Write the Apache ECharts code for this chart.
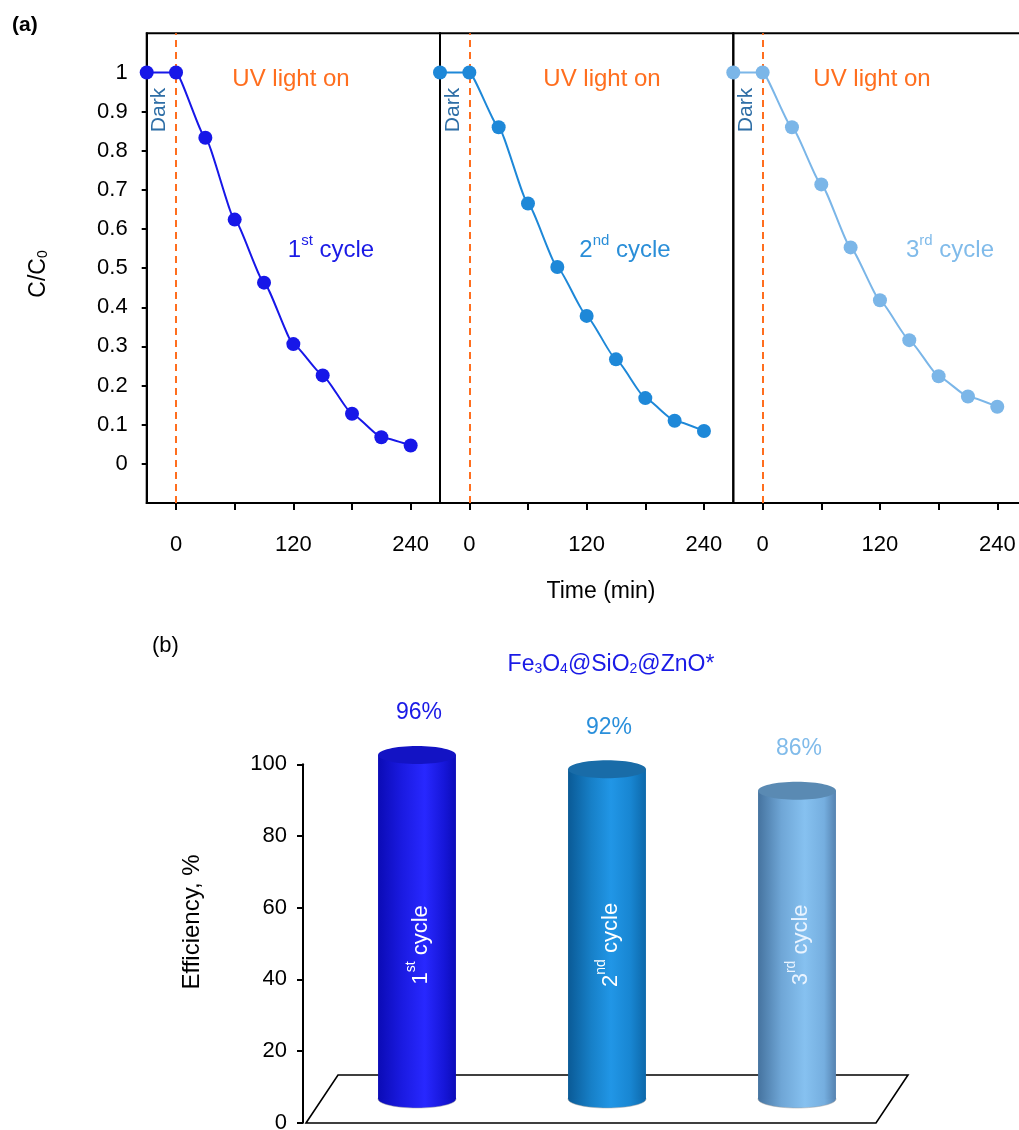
<!DOCTYPE html>
<html>
<head>
<meta charset="utf-8">
<script src="https://cdn.jsdelivr.net/npm/echarts@6/dist/echarts.min.js"></script>
<style>html,body{margin:0;padding:0;background:#fff}#c{width:1019px;height:1130px}</style>
</head>
<body>
<div id="c"></div>
<script>
// ---------- data ----------
const timeMin = [-30, 0, 30, 60, 90, 120, 150, 180, 210, 240];
const cycle1 = [1, 1, 0.833, 0.624, 0.463, 0.306, 0.226, 0.128, 0.068, 0.047];
const cycle2 = [1, 1, 0.860, 0.665, 0.503, 0.378, 0.267, 0.168, 0.110, 0.084];
const cycle3 = [1, 1, 0.860, 0.714, 0.553, 0.418, 0.316, 0.224, 0.172, 0.146];
const xTickValues = [0, 60, 120, 180, 240];
const xLabelValues = [0, 120, 240];
const yTicksA = [0, 0.1, 0.2, 0.3, 0.4, 0.5, 0.6, 0.7, 0.8, 0.9, 1];
const cycleNums = ['1', '2', '3'];
const cycleSufs = ['st', 'nd', 'rd'];
const barCategories = ['1st cycle', '2nd cycle', '3rd cycle'];
const efficiency = [96, 92, 86];
const yTicksB = [0, 20, 40, 60, 80, 100];

// ---------- styles ----------
const FONT = "'Liberation Sans', Arial, Helvetica, sans-serif";
const ORANGE = '#FF6E1E';
const lineColors = ['#1717E8', '#1E88D8', '#7BB6E8'];
const cycleTextColors = ['#1A1AE6', '#2A8ED8', '#80BBEA'];
const barStyles = [
  {body: [['#0B0BB5',0],['#1A1AE0',0.3],['#2828FF',0.6],['#1616D8',0.85],['#0C0CB8',1]], top: '#1313C4', label: '#FFFFFF', value: '#1A1AE6'},
  {body: [['#0A5A96',0],['#1780C8',0.3],['#2196E6',0.55],['#1886D2',0.8],['#0D68AA',1]], top: '#196CA8', label: '#FFFFFF', value: '#2A8FDB'},
  {body: [['#45739F',0],['#6FA6D6',0.3],['#86C1F0',0.6],['#75AEDF',0.85],['#5582B0',1]], top: '#5A8AB3', label: '#EAF4FF', value: '#80BBEA'}
];

const A = {top: 33.3, height: 469.7, width: 293.3, lefts: [146.7, 440, 733.3]};

function toStops(arr){ return arr.map(s => ({color: s[0], offset: s[1]})); }
function supRich(size, color){
  return {
    n: {fontSize: size, fontFamily: FONT, fill: color, lineHeight: size + 5, verticalAlign: 'bottom'},
    s: {fontSize: Math.round(size * 0.62), fontFamily: FONT, fill: color, lineHeight: Math.round(size*0.8), verticalAlign: 'top'}
  };
}
function subRich(size, color){
  return {
    n: {fontSize: size, fontFamily: FONT, fill: color, lineHeight: size + 5, verticalAlign: 'bottom'},
    b: {fontSize: Math.round(size * 0.62), fontFamily: FONT, fill: color, lineHeight: Math.round(size * 0.62), verticalAlign: 'bottom'}
  };
}

const chart = echarts.init(document.getElementById('c'), null, {renderer: 'canvas'});

const grids = [], xAxes = [], yAxes = [], series = [];
const cycles = [cycle1, cycle2, cycle3];
for (let i = 0; i < 3; i++) {
  grids.push({left: A.lefts[i], top: A.top, width: A.width, height: A.height,
    show: true, borderColor: '#000', borderWidth: 2, backgroundColor: 'transparent',
    containLabel: false, outerBoundsMode: 'none'});
  xAxes.push({type: 'value', gridIndex: i, min: -30, max: 270,
    axisLine: {show: true, onZero: false, lineStyle: {color: '#000', width: 2}},
    axisTick: {show: true, inside: false, length: 7, customValues: xTickValues, lineStyle: {color: '#000', width: 2}},
    axisLabel: {show: true, customValues: xLabelValues, margin: 31, fontSize: 22, color: '#000', fontFamily: FONT},
    splitLine: {show: false}});
  yAxes.push({type: 'value', gridIndex: i, min: -0.1, max: 1.1, interval: 0.1,
    show: i === 0,
    axisLine: {show: i === 0, onZero: false, lineStyle: {color: '#000', width: 2}},
    axisTick: {show: i === 0, inside: false, length: 5, customValues: yTicksA, lineStyle: {color: '#000', width: 2}},
    axisLabel: {show: i === 0, customValues: yTicksA, margin: 19, fontSize: 22, color: '#000', fontFamily: FONT,
      formatter: v => { const k = Math.round(v * 10); return k === 10 ? '1' : k === 0 ? '0' : (k / 10).toFixed(1); }},
    splitLine: {show: false}});
  series.push({
    type: 'line', xAxisIndex: i, yAxisIndex: i,
    data: timeMin.map((t, j) => [t, cycles[i][j]]),
    smooth: 0.15, smoothMonotone: 'x', symbol: 'circle', symbolSize: 14, clip: false,
    lineStyle: {color: lineColors[i], width: 2},
    itemStyle: {color: lineColors[i]},
    z: 5,
    markLine: {silent: true, symbol: 'none', animation: false,
      label: {show: false},
      lineStyle: {color: ORANGE, type: [7, 5], width: 2},
      data: [{xAxis: 0}]}
  });
}

// Panel (b): visible axis grid (front plane) and bar grid (mid-depth plane)
grids.push({left: 303, top: 764.3, width: 570, height: 358.4, show: false, containLabel: false, outerBoundsMode: 'none'});
grids.push({left: 322, top: 740.6, width: 570, height: 358.4, show: false, containLabel: false, outerBoundsMode: 'none'});
xAxes.push({type: 'value', gridIndex: 3, show: false, min: 0, max: 1});
yAxes.push({type: 'value', gridIndex: 3, min: 0, max: 100, interval: 20,
  axisLine: {show: true, onZero: false, lineStyle: {color: '#000', width: 2}},
  axisTick: {show: true, inside: false, length: 6, lineStyle: {color: '#000', width: 2}},
  axisLabel: {show: true, customValues: yTicksB, margin: 16, fontSize: 22, color: '#000', fontFamily: FONT},
  splitLine: {show: false}});
xAxes.push({type: 'category', gridIndex: 4, data: barCategories, show: false});
yAxes.push({type: 'value', gridIndex: 4, min: 0, max: 100, show: false});

const DEPTH_DX = 16, DEPTH_DY = 24;
series.push({
  type: 'custom', xAxisIndex: 4, yAxisIndex: 4, z: 1, silent: true,
  data: [[0, 0]],
  renderItem: function (params, api) {
    const l = api.coord([0, 0]);
    const r = api.coord([barCategories.length - 1, 0]);
    const bw = api.size([1, 0])[0];
    const x0 = l[0] - bw / 2, x1 = r[0] + bw / 2, y = l[1];
    return {type: 'polygon',
      shape: {points: [[x0 - DEPTH_DX, y + DEPTH_DY], [x0 + DEPTH_DX, y - DEPTH_DY], [x1 + DEPTH_DX, y - DEPTH_DY], [x1 - DEPTH_DX, y + DEPTH_DY]]},
      style: {fill: '#fff', stroke: '#000', lineWidth: 1.6}};
  }
});
series.push({
  type: 'custom', xAxisIndex: 4, yAxisIndex: 4, z: 3, silent: true,
  data: efficiency.map((v, i) => [i, v]),
  encode: {x: 0, y: 1},
  renderItem: function (params, api) {
    const idx = api.value(0), val = api.value(1);
    const top = api.coord([idx, val]);
    const base = api.coord([idx, 0]);
    const bw = api.size([1, 0])[0];
    const rx = bw * 0.205, ry = 9;
    const st = barStyles[idx];
    const bodyFill = new echarts.graphic.LinearGradient(0, 0, 1, 0, toStops(st.body));
    const labelY = api.coord([idx, 43])[1];
    return {type: 'group', children: [
      {type: 'ellipse', shape: {cx: base[0], cy: base[1], rx: rx, ry: ry}, style: {fill: bodyFill, stroke: 'rgba(160,160,160,0.5)', lineWidth: 1}},
      {type: 'rect', shape: {x: base[0] - rx, y: top[1], width: 2 * rx, height: base[1] - top[1]}, style: {fill: bodyFill}},
      {type: 'ellipse', shape: {cx: top[0], cy: top[1], rx: rx, ry: ry}, style: {fill: st.top}},
      {type: 'text', x: top[0] + 1, y: labelY, rotation: Math.PI / 2,
        style: {text: '{n|' + cycleNums[idx] + '}{s|' + cycleSufs[idx] + '}{n| cycle}', rich: supRich(22, st.label),
          align: 'center', verticalAlign: 'middle', fill: st.label}},
      {type: 'text', x: top[0] + 2, y: top[1] - 42,
        style: {text: val + '%', fontSize: 23, fontFamily: FONT, fill: st.value, align: 'center', verticalAlign: 'middle'}}
    ]};
  }
});

// ---------- text annotations ----------
const graphics = [
  {type: 'text', x: 12, y: 25, style: {text: '(a)', fontSize: 21, fontWeight: 'bold', fontFamily: FONT, fill: '#000', align: 'left', verticalAlign: 'middle'}},
  {type: 'text', x: 36, y: 274, rotation: Math.PI / 2,
    style: {text: '{n|C/C}{b|0}', rich: subRich(23, '#000'), align: 'center', verticalAlign: 'middle'}},
  {type: 'text', x: 601, y: 592, style: {text: 'Time (min)', fontSize: 23, fontFamily: FONT, fill: '#000', align: 'center', verticalAlign: 'middle'}},
  {type: 'text', x: 152, y: 646, style: {text: '(b)', fontSize: 22, fontFamily: FONT, fill: '#000', align: 'left', verticalAlign: 'middle'}},
  {type: 'text', x: 611, y: 662, style: {text: '{n|Fe}{b|3}{n|O}{b|4}{n|@SiO}{b|2}{n|@ZnO*}', rich: subRich(23, '#1A1AE6'), align: 'center', verticalAlign: 'middle'}},
  {type: 'text', x: 192, y: 922, rotation: Math.PI / 2,
    style: {text: 'Efficiency, %', fontSize: 24, fontFamily: FONT, fill: '#000', align: 'center', verticalAlign: 'middle'}}
];
const uvCenters = [291, 602, 872];
const cycleLabelCenters = [331, 625, 950];
for (let i = 0; i < 3; i++) {
  graphics.push({type: 'text', x: A.lefts[i] + 13, y: 110, rotation: Math.PI / 2,
    style: {text: 'Dark', fontSize: 21, fontFamily: FONT, fill: '#2E6EA6', align: 'center', verticalAlign: 'middle'}});
  graphics.push({type: 'text', x: uvCenters[i], y: 79,
    style: {text: 'UV light on', fontSize: 24, fontFamily: FONT, fill: ORANGE, align: 'center', verticalAlign: 'middle'}});
  graphics.push({type: 'text', x: cycleLabelCenters[i], y: 248,
    style: {text: '{n|' + cycleNums[i] + '}{s|' + cycleSufs[i] + '}{n| cycle}', rich: supRich(24, cycleTextColors[i]), align: 'center', verticalAlign: 'middle'}});
}

chart.setOption({
  animation: false,
  backgroundColor: '#fff',
  grid: grids, xAxis: xAxes, yAxis: yAxes, series: series,
  graphic: graphics
});
</script>
</body>
</html>
